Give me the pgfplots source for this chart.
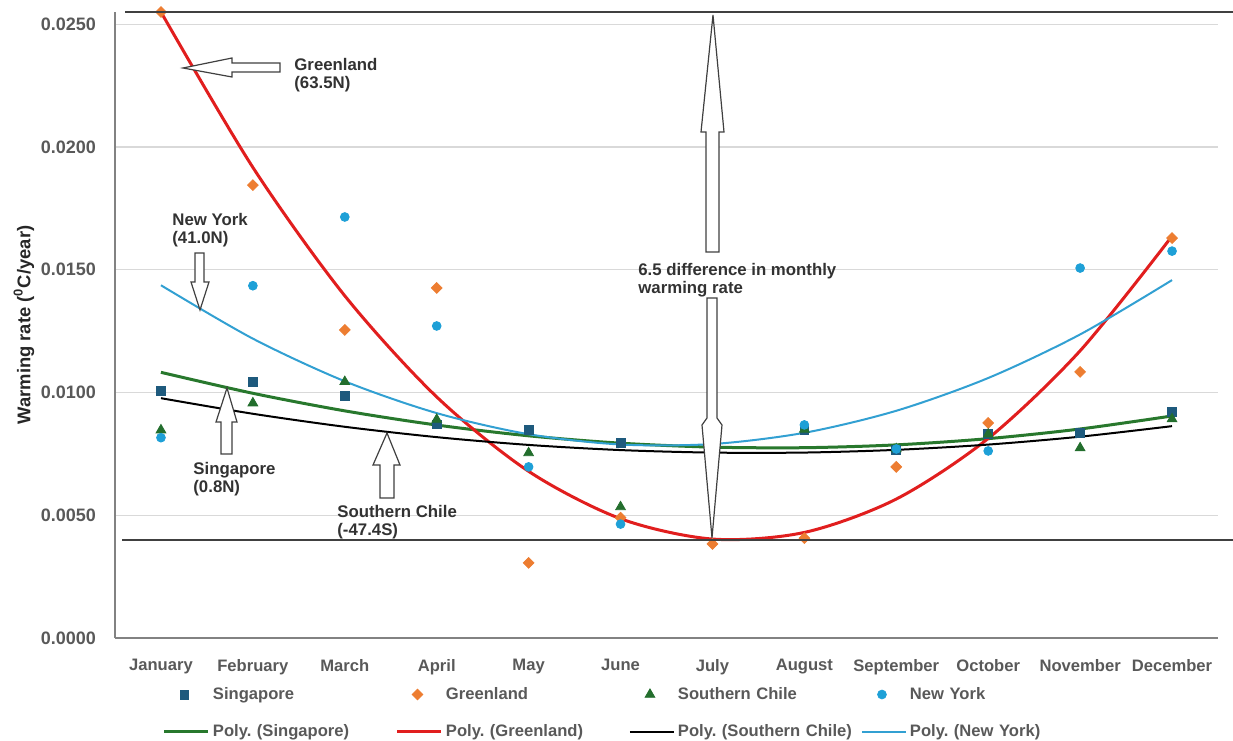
\documentclass[border=0pt]{standalone}
\usepackage{pgfplots}
\pgfplotsset{compat=1.18}
\usepackage{fontspec}
\setmainfont{Liberation Sans}
\frenchspacing
\definecolor{singc}{RGB}{30,90,125}
\definecolor{greenc}{RGB}{237,125,49}
\definecolor{chilec}{RGB}{35,110,45}
\definecolor{nyc}{RGB}{30,160,215}
\definecolor{psing}{RGB}{40,120,45}
\definecolor{pgreen}{RGB}{225,30,30}
\definecolor{pny}{RGB}{50,160,210}
\definecolor{tickgray}{RGB}{89,89,89}
\definecolor{gridc}{RGB}{217,217,217}
\definecolor{axc}{RGB}{130,130,130}
\definecolor{annc}{RGB}{64,64,64}
\definecolor{anntext}{RGB}{50,50,50}
\pgfplotsset{
  marklegend/.style={legend image code/.code={\path (0pt,0pt) (22pt,0pt); \draw[##1] plot coordinates {(10pt,0pt)};}},
  linelegend/.style={legend image code/.code={\draw[##1] (0pt,0pt) -- (22pt,0pt);}},
}
\begin{document}
\begin{tikzpicture}
\begin{axis}[
  at={(57.5pt,51pt)}, anchor=south west,
  scale only axis, width=551.5pt, height=313pt,
  xmin=-0.5, xmax=11.5, ymin=0, ymax=0.0255,
  axis x line=bottom, axis y line=left,
  axis line style={-, draw=axc, line width=0.7pt},
  xtick={0,...,11},
  xticklabels={January,February,March,April,May,June,July,August,September,October,November,December},
  ytick={0,0.005,0.01,0.015,0.02,0.025},
  major tick length=0pt,
  ymajorgrids, grid style={draw=gridc, line width=0.7pt},
  xticklabel style={font=\fontsize{8.3}{9}\selectfont\bfseries, text=tickgray, yshift=-7pt},
  yticklabel style={font=\fontsize{9}{10}\selectfont\bfseries, text=tickgray, xshift=-6pt},
  scaled y ticks=false,
  /pgf/number format/fixed,
  /pgf/number format/fixed zerofill,
  /pgf/number format/precision=4,
  /pgf/number format/assume math mode=true,
  ylabel={Warming rate (\textsuperscript{0}C/year)},
  ylabel style={at={(axis description cs:-0.0825,0.5)}, anchor=center, font=\fontsize{9.2}{10}\selectfont\bfseries, text=black!85},
  clip=false,
  legend columns=4, legend cell align=left,
  legend style={at={(axis description cs:0.0435,-0.0735)}, anchor=north west,
    draw=none, fill=none, inner sep=0pt, outer sep=0pt, column sep=0pt, row sep=8pt,
    font=\fontsize{8.3}{9}\selectfont\bfseries\frenchspacing, text=tickgray,
    nodes={text width=90pt, align=left, inner sep=1.5pt, text height=6pt, text depth=1.5pt}},
]
% markers
\addplot[only marks, mark=square*, mark size=2.2pt, mark options={draw=singc, fill=singc}, marklegend]
  coordinates {(0,0.01007) (1,0.01044) (2,0.00987) (3,0.00870) (4,0.00847) (5,0.00794) (6,0.00644) (7,0.00847) (8,0.00766) (9,0.00831) (10,0.00835) (11,0.00921)};
\addlegendentry{Singapore}
\addplot[only marks, mark=square*, mark size=1.9pt, mark options={draw=greenc, fill=greenc, rotate=45}, marklegend]
  coordinates {(0,0.02550) (1,0.01845) (2,0.01255) (3,0.01426) (4,0.00306) (5,0.00490) (6,0.00383) (7,0.00407) (8,0.00697) (9,0.00876) (10,0.01084) (11,0.01629)};
\addlegendentry{Greenland}
\addplot[only marks, mark=triangle*, mark size=2.8pt, mark options={draw=chilec, fill=chilec}, marklegend]
  coordinates {(0,0.00847) (1,0.00957) (2,0.01044) (3,0.00890) (4,0.00754) (5,0.00534) (6,0.00725) (7,0.00850) (8,0.00770) (9,0.00830) (10,0.00774) (11,0.00892)};
\addlegendentry{Southern Chile}
\addplot[only marks, mark=*, mark size=2.2pt, mark options={draw=nyc, fill=nyc}, marklegend]
  coordinates {(0,0.00816) (1,0.01435) (2,0.01715) (3,0.01271) (4,0.00697) (5,0.00464) (6,0.00688) (7,0.00868) (8,0.00770) (9,0.00762) (10,0.01507) (11,0.01576)};
\addlegendentry{New York}
% polynomial trend lines
\addplot[psing, line width=1.5pt, smooth, mark=none, linelegend]
  coordinates {(0,0.010822) (1,0.009968) (2,0.009252) (3,0.008675) (4,0.008236) (5,0.007936) (6,0.007775) (7,0.007752) (8,0.007867) (9,0.008121) (10,0.008514) (11,0.009044)};
\addlegendentry{Poly. (Singapore)}
\addplot[pgreen, line width=1.5pt, smooth, mark=none, linelegend]
  coordinates {(0,0.02550) (1,0.01917) (2,0.01394) (3,0.00982) (4,0.00679) (5,0.00486) (6,0.00403) (7,0.00430) (8,0.00566) (9,0.00813) (10,0.01170) (11,0.01637)};
\addlegendentry{Poly. (Greenland)}
\addplot[black, line width=1pt, smooth, mark=none, linelegend]
  coordinates {(0,0.009769) (1,0.009134) (2,0.008604) (3,0.008182) (4,0.007865) (5,0.007655) (6,0.007552) (7,0.007554) (8,0.007664) (9,0.007879) (10,0.008201) (11,0.008630)};
\addlegendentry{Poly. (Southern Chile)}
\addplot[pny, line width=1pt, smooth, mark=none, linelegend]
  coordinates {(0,0.014369) (1,0.012194) (2,0.010458) (3,0.009161) (4,0.008302) (5,0.007882) (6,0.007901) (7,0.008359) (8,0.009256) (9,0.010591) (10,0.012366) (11,0.014579)};
\addlegendentry{Poly. (New York)}
\end{axis}
\begin{scope}[x=0.5pt, y=-0.5pt, shift={(0pt,370pt)}]
  \draw[annc, line width=0.6pt] (125,12) -- (1233,12);
  \draw[annc, line width=0.6pt] (122,540) -- (1233,540);
  \tikzset{blk/.style={draw=annc, fill=white, line width=0.6pt, line join=miter}}
  % Greenland arrow (left)
  \draw[blk] (183,68) -- (232,58) -- (232,63) -- (280,63) -- (280,72) -- (232,72) -- (232,77) -- cycle;
  % New York arrow (down)
  \draw[blk] (195,253) -- (204,253) -- (204,282) -- (209,282) -- (200,310) -- (191,282) -- (195,282) -- cycle;
  % Singapore arrow (up)
  \draw[blk] (227,388) -- (237,422) -- (232,422) -- (232,454) -- (221,454) -- (221,422) -- (216,422) -- cycle;
  % Southern Chile arrow (up)
  \draw[blk] (387,433) -- (400,465) -- (394,465) -- (394,498) -- (380,498) -- (380,465) -- (373,465) -- cycle;
  % big up arrow
  \draw[blk] (713,15) -- (724,132) -- (719,132) -- (719,252) -- (706,252) -- (706,132) -- (701,132) -- cycle;
  % big down arrow
  \draw[blk] (707,298) -- (717,298) -- (717,418) -- (722,425) -- (712,538) -- (702,425) -- (707,418) -- cycle;
  \tikzset{ann/.style={anchor=north west, inner sep=0pt, align=left, text=anntext, font=\fontsize{8.4}{9}\selectfont\bfseries}}
  \node[ann] at (294,58) {Greenland\\(63.5N)};
  \node[ann] at (172,213) {New York\\(41.0N)};
  \node[ann] at (193,462) {Singapore\\(0.8N)};
  \node[ann] at (337,505) {Southern Chile\\(-47.4S)};
  \node[ann] at (638,263) {6.5 difference in monthly\\warming rate};
\end{scope}
\pgfresetboundingbox
\useasboundingbox (0,0) rectangle (616.5pt,370pt);
\end{tikzpicture}
\end{document}
